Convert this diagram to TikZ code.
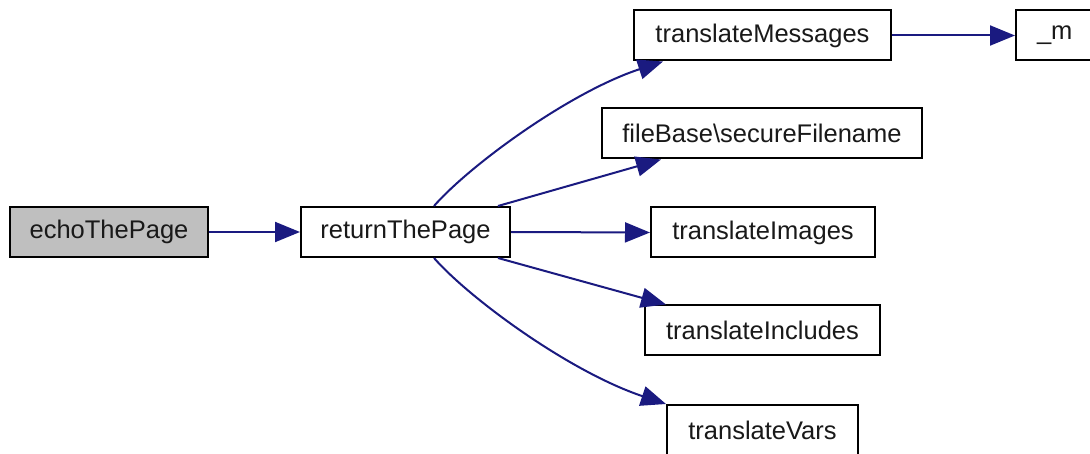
\documentclass[tikz,border=0pt]{standalone}
\usepackage{fontspec}
\setmainfont{Liberation Sans}
\usetikzlibrary{arrows.meta,calc}
\definecolor{edgeblue}{HTML}{1A1A80}
\tikzset{
  fn/.style={draw=black,line width=2pt,fill=white,minimum height=50pt,inner sep=0pt,font=\fontsize{25.5}{30}\selectfont,text=black!90},
  edge/.style={draw=edgeblue,line width=2pt,-{Triangle[length=25pt,width=20pt]}},
}
\begin{document}
\begin{tikzpicture}[x=1pt,y=-1pt]
\useasboundingbox (0,0) rectangle (1090,454);
\begin{scope}
\clip (0,0) rectangle (1090,454);
\node[fn,fill=black!25,minimum width=198pt] (echo) at (109,232) {echoThePage};
\node[fn,minimum width=209pt] (ret) at (405.5,232) {returnThePage};
\node[fn,minimum width=257pt] (tm) at (762.5,35.5) {translateMessages};
\node[fn,minimum width=90pt,text width=48pt,align=left] (m) at (1061,35.5) {\_m};
\node[fn,minimum width=320pt] (fb) at (762,133.5) {fileBase\textbackslash secureFilename};
\node[fn,minimum width=224pt] (ti) at (763,232.5) {translateImages};
\node[fn,minimum width=235pt] (tinc) at (762.5,330.5) {translateIncludes};
\node[fn,minimum width=191pt] (tv) at (762.5,430) {translateVars};
\end{scope}
\draw[edge] (echo.east) -- (ret.west);
\draw[edge] (tm.east) -- (m.west);
\draw[edge] ($(ret.north west)+(134,0)$) .. controls (470,165) and (570,92) .. ($(tm.south west)+(30,0)$);
\draw[edge] ($(ret.north east)+(-13,0)$) -- ($(fb.south west)+(60,0)$);
\draw[edge] (ret.east) -- (ti.west);
\draw[edge] ($(ret.south east)+(-13,0)$) -- ($(tinc.north west)+(22,0)$);
\draw[edge] ($(ret.south west)+(134,0)$) .. controls (470,299) and (570,372) .. ($(tv.north west)+(0,0)$);
\end{tikzpicture}
\end{document}
